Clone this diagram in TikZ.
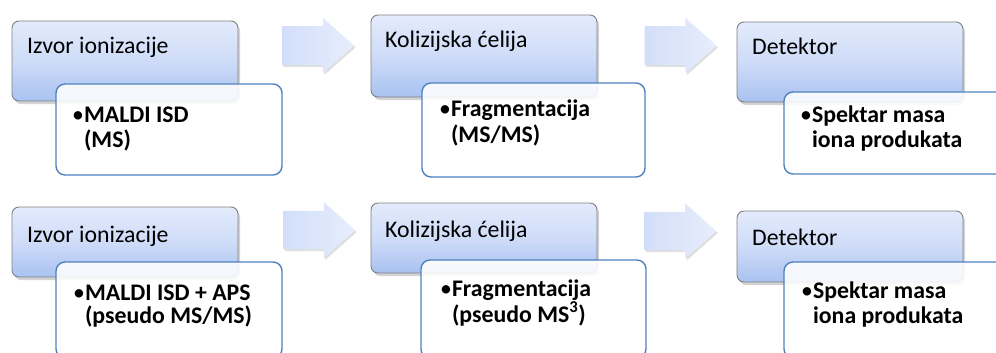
\documentclass[tikz,border=0pt]{standalone}
\usepackage{fontspec}
\setmainfont{Carlito}
\usetikzlibrary{shapes.arrows,shadows}
\definecolor{boxtop}{HTML}{E3EBFC}
\definecolor{boxmid}{HTML}{CFDCF8}
\definecolor{boxbot}{HTML}{A8C2F1}
\definecolor{boxline}{HTML}{808080}
\definecolor{wline}{HTML}{4F81BD}
\definecolor{arrL}{HTML}{D2DEF9}
\definecolor{arrR}{HTML}{E7EEFC}
\tikzset{
  bluebox/.style={rectangle, rounded corners=7pt, draw=boxline, line width=0.9pt,
    top color=boxtop, bottom color=boxbot, middle color=boxmid,
    inner sep=0pt, outer sep=0pt, anchor=north west,
    drop shadow={shadow xshift=2pt, shadow yshift=-3pt, opacity=0.35}},
  whitebox/.style={rectangle, rounded corners=9pt, draw=wline, line width=1.4pt,
    fill=white, fill opacity=0.88, draw opacity=1,
    inner sep=0pt, outer sep=0pt, anchor=north west},
  blockarrow/.style={single arrow, single arrow tip angle=83, single arrow head indent=0pt,
    minimum height=72pt, minimum width=55pt, inner xsep=0pt,
    left color=arrL, right color=arrR, draw=none,
    drop shadow={shadow xshift=1.5pt, shadow yshift=-2pt, opacity=0.25}},
  title/.style={anchor=base west, inner sep=0pt, font=\fontsize{23.8}{26}\selectfont, text=black},
  item/.style={anchor=base west, inner sep=0pt, font=\fontsize{23.8}{26}\selectfont, text=black}
}
\begin{document}
\begin{tikzpicture}[x=1pt,y=-1pt]
\useasboundingbox (0,0) rectangle (996,353);
% ---------- arrows ----------
\node[blockarrow, inner ysep=17pt] (a1) at (307,45.5) {};
\node[blockarrow, inner ysep=17pt] (a2) at (669.5,45.5) {};
\node[blockarrow, inner ysep=15pt, minimum width=56pt] (a3) at (308.5,230) {};
\node[blockarrow, inner ysep=16pt, minimum width=55pt] (a4) at (669.5,231) {};
% ---------- top row ----------
\node[bluebox, minimum width=226pt, minimum height=80pt] (b1) at (12,21) {};
\node[title] (t1) at (27,54) {Izvor ionizacije};
\node[whitebox, minimum width=226pt, minimum height=91pt] (w1) at (56,84) {};
\node[item] (i1a) at (72,122) {•\textbf{MALDI ISD}};
\node[item] (i1b) at (72,147) {\hphantom{•}\textbf{(MS)}};

\node[bluebox, minimum width=226pt, minimum height=82pt] (b2) at (371,15) {};
\node[title] (t2) at (385,48) {Kolizijska ćelija};
\node[whitebox, minimum width=223pt, minimum height=94pt] (w2) at (422,83) {};
\node[item] (i2a) at (439,117) {•\textbf{Fragmentacija}};
\node[item] (i2b) at (439,142) {\hphantom{•}\textbf{(MS/MS)}};

\node[bluebox, minimum width=226pt, minimum height=80pt] (b3) at (737,22) {};
\node[title] (t3) at (752,55) {Detektor};
\node[whitebox, minimum width=226pt, minimum height=82pt] (w3) at (784,92) {};
\node[item] (i3a) at (800,122) {•\textbf{Spektar masa}};
\node[item] (i3b) at (800,147) {\hphantom{•}\textbf{iona produkata}};
% ---------- bottom row ----------
\node[bluebox, minimum width=226pt, minimum height=70pt] (c1) at (12,207) {};
\node[title] (u1) at (27,242) {Izvor ionizacije};
\node[whitebox, minimum width=226pt, minimum height=96pt] (v1) at (56,262) {};
\node[item] (j1a) at (73,300) {•\textbf{MALDI ISD + APS}};
\node[item] (j1b) at (73,323) {\hphantom{•}\textbf{(pseudo MS/MS)}};

\node[bluebox, minimum width=226pt, minimum height=70pt] (c2) at (371,203) {};
\node[title] (u2) at (385,237) {Kolizijska ćelija};
\node[whitebox, minimum width=225pt, minimum height=98pt] (v2) at (421,260) {};
\node[item] (j2a) at (440,296) {•\textbf{Fragmentacija}};
\node[item] (j2b) at (440,322) {\hphantom{•}\textbf{(pseudo MS\textsuperscript{3})}};

\node[bluebox, minimum width=226pt, minimum height=71pt] (c3) at (737,211) {};
\node[title] (u3) at (752,245) {Detektor};
\node[whitebox, minimum width=226pt, minimum height=96pt] (v3) at (784,262) {};
\node[item] (j3a) at (801,298) {•\textbf{Spektar masa}};
\node[item] (j3b) at (801,323) {\hphantom{•}\textbf{iona produkata}};
\end{tikzpicture}
\end{document}
